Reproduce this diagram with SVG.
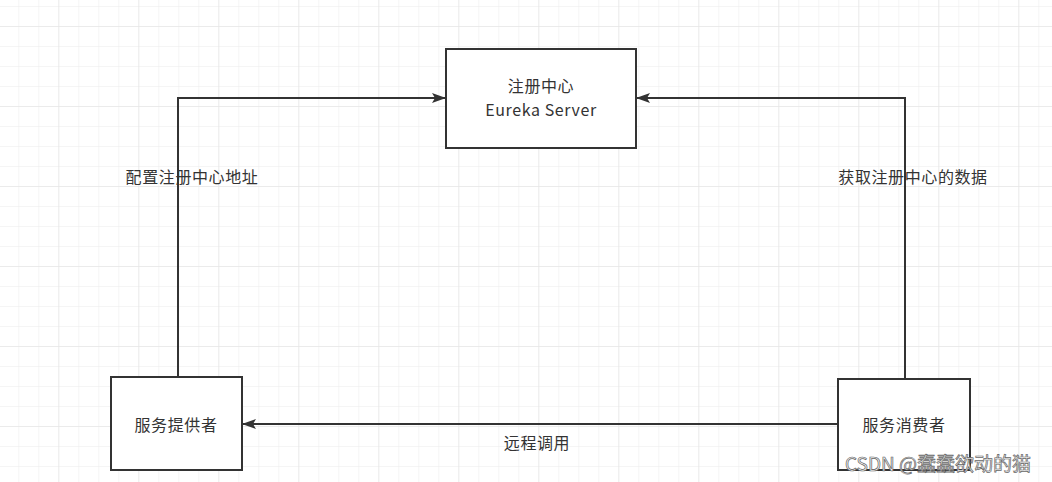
<svg xmlns="http://www.w3.org/2000/svg" width="1052" height="482" viewBox="0 0 1052 482">
<defs>
<pattern id="minor" width="20" height="20" patternUnits="userSpaceOnUse" x="-1.7" y="6">
<path d="M0 0H20M0 0V20" fill="none" stroke="#ececec" stroke-width="1"/>
</pattern>
<pattern id="major" width="80" height="80" patternUnits="userSpaceOnUse" x="58.3" y="26">
<path d="M0 0H80M0 0V80" fill="none" stroke="#e2e2e2" stroke-width="1"/>
</pattern>
<marker id="arr" viewBox="0 0 14 10" refX="14" refY="5" markerWidth="14" markerHeight="10" markerUnits="userSpaceOnUse" orient="auto">
<path d="M0 0L14 5L0 10L3 5Z" fill="#333"/>
</marker>
<style>
.box{fill:#fff;stroke:#333;stroke-width:2}
.edge{fill:none;stroke:#333;stroke-width:2;marker-end:url(#arr)}
.t{font-family:"Noto Sans CJK SC","Liberation Sans",sans-serif;font-size:16px;fill:#333;text-anchor:middle;letter-spacing:0.6px}
.wm{font-family:"Noto Sans CJK SC","Liberation Sans",sans-serif;font-size:19px;fill:#f4f4f4;stroke:#666;stroke-width:0.7;text-anchor:start}
</style>
</defs>
<rect width="1052" height="482" fill="#fff"/>
<rect width="1052" height="482" fill="url(#minor)"/>
<rect width="1052" height="482" fill="url(#major)"/>
<g id="connectors">
<path class="edge" d="M178 377V98H446"/>
<path class="edge" d="M905 379V98H636"/>
<path class="edge" d="M838 424H242"/>
</g>
<g id="eureka">
<rect class="box" x="446" y="49" width="190" height="99"/>
<text class="t" x="541" y="92">注册中心</text>
<text class="t" x="541" y="116">Eureka Server</text>
</g>
<g id="provider">
<rect class="box" x="111" y="377" width="131" height="93"/>
<text class="t" x="176" y="431">服务提供者</text>
</g>
<g id="consumer">
<rect class="box" x="838" y="379" width="132" height="91"/>
<text class="t" x="904" y="431">服务消费者</text>
</g>
<g id="labels">
<text class="t" x="192" y="183">配置注册中心地址</text>
<text class="t" x="913" y="183">获取注册中心的数据</text>
<text class="t" x="537" y="449">远程调用</text>
</g>
<text class="wm" x="845" y="471">CSDN @蠢蠢欲动的猫</text>
</svg>
